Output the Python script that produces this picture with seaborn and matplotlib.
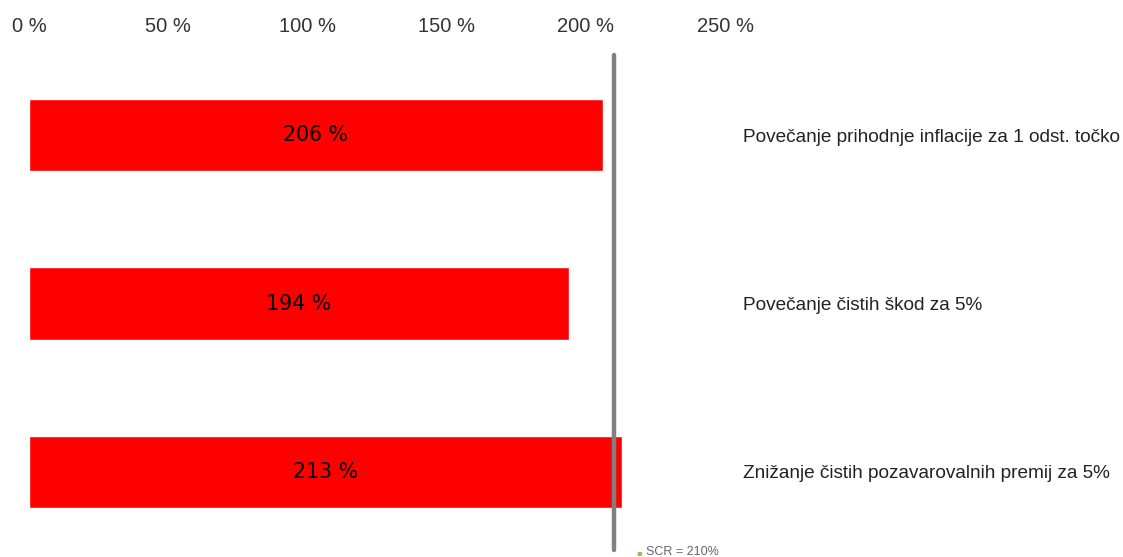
import matplotlib
matplotlib.use("Agg")
import matplotlib.pyplot as plt
import seaborn as sns
import pandas as pd

categories = [
    "Povečanje prihodnje inflacije za 1 odst. točko",
    "Povečanje čistih škod za 5%",
    "Znižanje čistih pozavarovalnih premij za 5%",
]
values = [206, 194, 213]
scr_value = 210
tick_values = [0, 50, 100, 150, 200, 250]
tick_labels = ["0 %", "50 %", "100 %", "150 %", "200 %", "250 %"]
legend_label = "SCR = 210%"

sns.set_theme(style="white")
plt.rcParams["font.family"] = ["Liberation Sans", "DejaVu Sans"]

df = pd.DataFrame({"cat": categories, "val": values})

fig = plt.figure(figsize=(11.23, 5.57), dpi=100)
ax = fig.add_axes([29 / 1123, 1 / 557, (725 - 29) / 1123, (556 - 51) / 557])

sns.barplot(data=df, x="val", y="cat", orient="h", color="#FF0000",
            saturation=1, width=0.43, ax=ax)

ax.set_xlim(0, 250)
ax.set_ylim(2.5, -0.5)
ax.set_xlabel("")
ax.set_ylabel("")
ax.xaxis.tick_top()
ax.set_xticks(tick_values)
ax.set_xticklabels(tick_labels, fontsize=14.5, color="#333333")
ax.tick_params(axis="x", length=0, pad=11)
ax.yaxis.tick_right()
ax.tick_params(axis="y", length=0, pad=13)
for lbl in ax.get_yticklabels():
    lbl.set_fontsize(13.7)
    lbl.set_color("#222222")
    lbl.set_horizontalalignment("left")
for s in ax.spines.values():
    s.set_visible(False)
ax.grid(False)

for i, v in enumerate(values):
    ax.text(v / 2, i, f"{v} %", ha="center", va="center", fontsize=14.8,
            color="#000000", family="DejaVu Sans")

ax.axvline(scr_value, ymin=0.012, ymax=0.992, color="#808080", lw=3.2)

fig.text(639 / 1123, 1 - 553 / 557, "▪", color="#8BC34A", fontsize=6,
         ha="center", va="center", family="DejaVu Sans")
fig.text(646 / 1123, 1 - 552 / 557, legend_label, color="#666666",
         fontsize=9, ha="left", va="center")

fig.savefig("out.png", dpi=100)
